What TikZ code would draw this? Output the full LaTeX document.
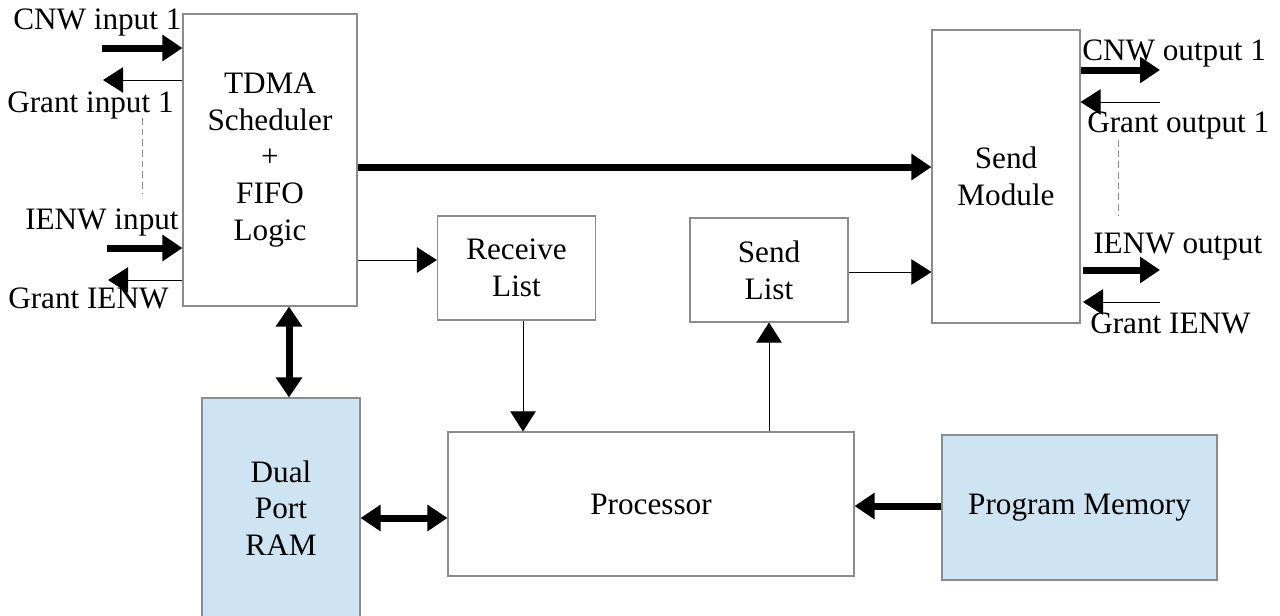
\documentclass[tikz,border=0pt]{standalone}
\usepackage{fontspec}
\setmainfont{Liberation Serif}
\usetikzlibrary{arrows.meta}
\definecolor{boxgray}{RGB}{140,140,140}
\definecolor{memblue}{RGB}{207,228,242}
\begin{document}
\begin{tikzpicture}[x=0.75pt,y=-0.75pt,
  font=\fontsize{23.4}{27.5}\selectfont,
  block/.style={draw=boxgray,line width=0.8pt,fill=white,inner sep=0pt,align=center},
  memblock/.style={block,fill=memblue},
  lbl/.style={anchor=base west,inner sep=0pt},
  tip/.style={-{Triangle[length=15pt,width=19pt]}},
  dtip/.style={{Triangle[length=15pt,width=19pt]}-{Triangle[length=15pt,width=19pt]}},
  bus/.style={line width=5.25pt},
  wire/.style={line width=0.75pt},
  gap/.style={draw=boxgray,line width=0.75pt,dash pattern=on 5pt off 3pt}]
\fill[white] (0,0) rectangle (1280,615);
\useasboundingbox (0,0) rectangle (1280,615);

% blocks
\node[block,minimum width=130.5pt,minimum height=219pt] (tdma) at (270,160)
  {TDMA\\Scheduler\\+\\FIFO\\Logic};
\node[block,minimum width=111pt,minimum height=219.75pt] (send) at (1006,176.5)
  {Send\\Module};
\node[block,minimum width=118.5pt,minimum height=78pt] (recv) at (516.5,268)
  {Receive\\List};
\node[block,minimum width=118.5pt,minimum height=78pt] (slist) at (769,270)
  {Send\\List};
\node[memblock,minimum width=118.5pt,minimum height=165pt] (ram) at (281,508)
  {Dual\\Port\\RAM};
\node[block,minimum width=304.5pt,minimum height=108pt] (proc) at (651,504)
  {Processor};
\node[memblock,minimum width=206.25pt,minimum height=108.75pt] (pmem) at (1079.5,507.5)
  {Program Memory};

% input side labels
\node[lbl] (lcnwin) at (13,29) {CNW input 1};
\node[lbl] (lgrantin) at (7,112) {Grant input 1};
\node[lbl] (lienwin) at (25,229) {IENW input};
\node[lbl] (lgrantiein) at (8,308) {Grant IENW};

% output side labels
\node[lbl] (lcnwout) at (1082,60) {CNW output 1};
\node[lbl] (lgrantout) at (1087,132) {Grant output 1};
\node[lbl] (lienwout) at (1093,253) {IENW output};
\node[lbl] (lgrantieout) at (1090,333) {Grant IENW};

% free ends of the network ports
\coordinate (cnwin) at (102,48);
\coordinate (grantin) at (103,80);
\coordinate (ienwin) at (107,248);
\coordinate (grantiein) at (108,280);
\coordinate (cnwout) at (1160,70);
\coordinate (grantout) at (1160,102);
\coordinate (ienwoutA) at (1083,270);
\coordinate (ienwout) at (1160,270);
\coordinate (grantieoutA) at (1160,302);
\coordinate (grantieout) at (1083,302);

% input ports
\draw[bus,tip] (cnwin) -- (tdma.west |- cnwin);
\draw[wire,tip] (tdma.west |- grantin) -- (grantin);
\draw[bus,tip] (ienwin) -- (tdma.west |- ienwin);
\draw[wire,tip] (tdma.west |- grantiein) -- (grantiein);
\draw[gap] (142,118) -- (142,193);

% output ports
\draw[bus,tip] (send.east |- cnwout) -- (cnwout);
\draw[wire,tip] (grantout) -- (send.east |- grantout);
\draw[bus,tip] (ienwoutA) -- (ienwout);
\draw[wire,tip] (grantieoutA) -- (grantieout);
\draw[gap] (1118,140) -- (1118,215);

% internal data paths
\draw[bus,tip] (tdma.east |- 0,167) -- (send.west |- 0,167);
\draw[wire,tip] (tdma.east |- 0,260) -- (recv.west |- 0,260);
\draw[wire,tip] (slist.east |- 0,272) -- (send.west |- 0,272);
\draw[bus,dtip] (tdma.south -| 289,0) -- (ram.north -| 289,0);
\draw[bus,dtip] (ram.east |- 0,518) -- (proc.west |- 0,518);
\draw[wire,tip] (recv.south -| 523,0) -- (proc.north -| 523,0);
\draw[wire,tip] (proc.north -| 769,0) -- (slist.south -| 769,0);
\draw[bus,tip] (pmem.west |- 0,506) -- (proc.east |- 0,506);
\end{tikzpicture}
\end{document}
